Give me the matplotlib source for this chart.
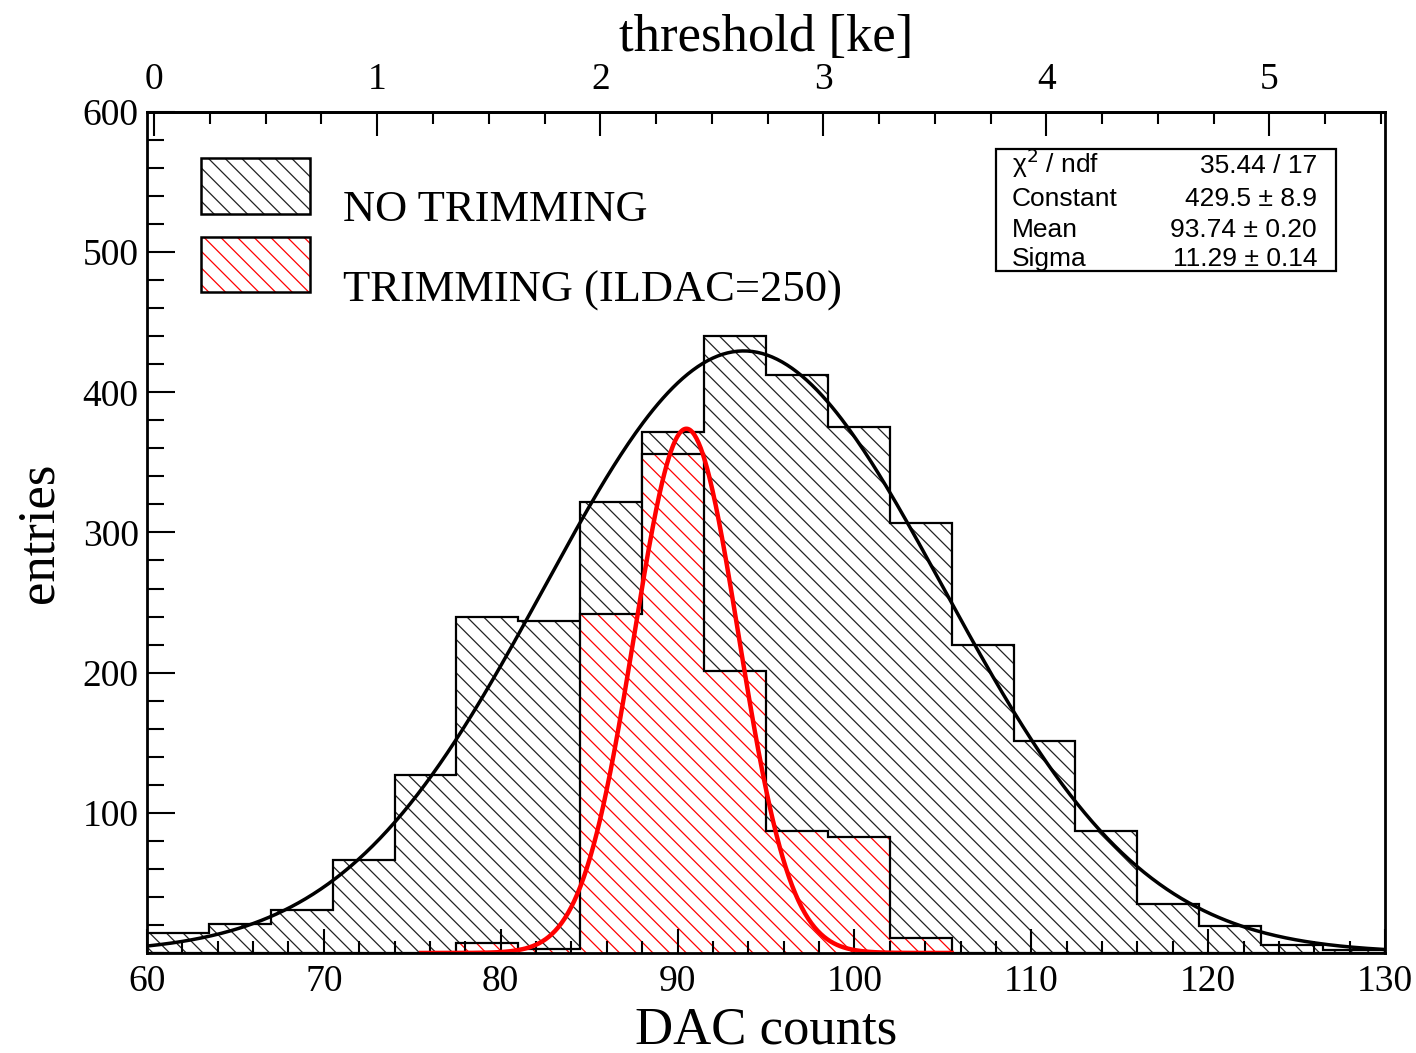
import numpy as np
import matplotlib
matplotlib.use("Agg")
import matplotlib.pyplot as plt
from matplotlib.patches import Rectangle
from matplotlib.ticker import MultipleLocator, FixedLocator

plt.rcParams['font.family'] = ['Liberation Serif', 'DejaVu Serif']
plt.rcParams['hatch.linewidth'] = 0.9
plt.rcParams['hatch.color'] = '#222222'

# binning: 20 bins of 3.5 DAC between 60 and 130
edges = np.linspace(60, 130, 21)

# entries per bin, no trimming
counts_notrim = [14, 21, 31, 66, 127, 240, 237, 322, 372, 440,
                 412, 375, 307, 220, 151, 87, 35, 19, 6, 2]
# entries per bin, trimming with ILDAC=250
counts_trim = [0, 0, 0, 0, 0, 7, 3, 242, 356, 201,
               87, 83, 11, 0, 0, 0, 0, 0, 0, 0]

# gaussian fits (constant, mean, sigma) and fit ranges
fit_notrim = (429.5, 93.74, 11.29)
fit_trim = (374.0, 90.5, 2.95)
range_notrim = (60, 130)
range_trim = (75.5, 105.5)

# stat box
stat_names = [r"χ$^{2}$ / ndf", "Constant", "Mean", "Sigma"]
stat_values = ["35.44 / 17", "429.5 ± 8.9", "93.74 ± 0.20", "11.29 ± 0.14"]

# DAC -> threshold conversion for the upper axis
dac0 = 60.41      # DAC at 0 ke
dac_per_ke = 12.61
ke_major = [0, 1, 2, 3, 4, 5]
ke_minor = np.arange(0.25, 5.51, 0.25)


def gaus(x, c, m, s):
    return c * np.exp(-0.5 * ((x - m) / s) ** 2)


fig = plt.figure(figsize=(14.16, 10.53), dpi=100)
ax = fig.add_axes([0.1038, 0.095, 0.8743, 0.7987])

# histograms: hatch first, outline on top
ax.stairs(counts_notrim, edges, fill=True, facecolor='none', edgecolor='#222222',
          hatch='\\\\', linewidth=0)
ax.stairs(counts_notrim, edges, color='black', linewidth=1.6)
ax.stairs(counts_trim, edges, fill=True, facecolor='white', edgecolor='red',
          hatch='\\\\', linewidth=0)
ax.stairs(counts_trim, edges, color='black', linewidth=1.6)

# fitted curves
x1 = np.linspace(*range_notrim, 500)
ax.plot(x1, gaus(x1, *fit_notrim), color='black', lw=2.5)
x2 = np.linspace(*range_trim, 500)
ax.plot(x2, gaus(x2, *fit_trim), color='red', lw=3.2)

ax.set_xlim(60, 130)
ax.set_ylim(0, 600)
ax.set_yticks([100, 200, 300, 400, 500, 600])
ax.xaxis.set_major_locator(MultipleLocator(10))
ax.xaxis.set_minor_locator(MultipleLocator(2))
ax.yaxis.set_minor_locator(MultipleLocator(20))
ax.tick_params(axis='both', which='both', direction='in', labelsize=27, width=1.5)
ax.tick_params(axis='x', which='major', length=17, pad=8)
ax.tick_params(axis='x', which='minor', length=8.5)
ax.tick_params(axis='y', which='major', length=20, pad=6)
ax.tick_params(axis='y', which='minor', length=12.5)
for sp in ax.spines.values():
    sp.set_linewidth(2)

ax.set_xlabel("DAC counts", fontsize=38, labelpad=6)
ax.set_ylabel("entries", fontsize=38, labelpad=14)

# upper axis in threshold units
top = ax.secondary_xaxis('top', functions=(lambda d: (d - dac0) / dac_per_ke,
                                            lambda k: k * dac_per_ke + dac0))
top.xaxis.set_major_locator(FixedLocator(ke_major))
top.xaxis.set_minor_locator(FixedLocator(ke_minor))
top.tick_params(which='both', direction='in', labelsize=27, width=1.5)
top.tick_params(which='major', length=17, pad=11)
top.tick_params(which='minor', length=8.5)
top.spines['top'].set_linewidth(2)
top.set_xlabel("threshold [ke]", fontsize=38, labelpad=8)

# legend
ax.add_patch(Rectangle((0.0436, 0.8787), 0.0881, 0.0666, transform=ax.transAxes,
                       facecolor='white', edgecolor='#222222', hatch='\\\\', lw=0))
ax.add_patch(Rectangle((0.0436, 0.8787), 0.0881, 0.0666, transform=ax.transAxes,
                       fill=False, edgecolor='black', lw=1.8))
ax.add_patch(Rectangle((0.0436, 0.786), 0.0881, 0.0654, transform=ax.transAxes,
                       facecolor='white', edgecolor='red', hatch='\\\\', lw=0))
ax.add_patch(Rectangle((0.0436, 0.786), 0.0881, 0.0654, transform=ax.transAxes,
                       fill=False, edgecolor='black', lw=1.8))
ax.text(0.1583, 0.870, "NO TRIMMING", transform=ax.transAxes, fontsize=32,
        va='baseline', ha='left')
ax.text(0.1583, 0.775, "TRIMMING (ILDAC=250)", transform=ax.transAxes, fontsize=32,
        va='baseline', ha='left')

# fit statistics box
ax.add_patch(Rectangle((0.6858, 0.811), 0.2746, 0.145, transform=ax.transAxes,
                       facecolor='white', edgecolor='black', lw=1.6, zorder=4))
rows_y = [0.9275, 0.8882, 0.8514, 0.8169]
for name, val, yy in zip(stat_names, stat_values, rows_y):
    ax.text(0.6987, yy, name, transform=ax.transAxes, fontsize=19, va='baseline',
            ha='left', family=['Liberation Sans', 'DejaVu Sans'], zorder=5)
    ax.text(0.9451, yy, val, transform=ax.transAxes, fontsize=19, va='baseline',
            ha='right', family=['Liberation Sans', 'DejaVu Sans'], zorder=5)

fig.savefig("out.png", dpi=100)
